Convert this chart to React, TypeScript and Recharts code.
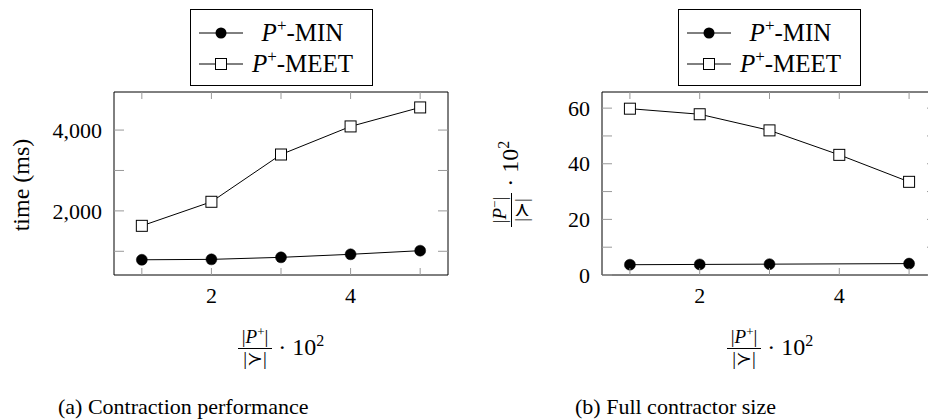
import { LineChart, Line, XAxis, YAxis } from 'recharts';

const FONT = '"Liberation Serif", "DejaVu Serif", serif';

const xValues = [1, 2, 3, 4, 5];
const xTicks = [1, 2, 3, 4, 5];
const xLabeled = [2, 4];

// (a) contraction time in ms
const timeMin = [790, 800, 850, 925, 1015];
const timeMeet = [1630, 2225, 3395, 4090, 4560];
const timeTicks = [1000, 2000, 3000, 4000];
const timeLabeled = [2000, 4000];

// (b) full contractor size, |P-|/|>| * 10^2 (no MIN mark at 4)
const sizeMin = [3.7, 3.8, 3.9, null, 4.1];
const sizeMeet = [59.8, 57.8, 52.0, 43.2, 33.5];
const sizeTicks = [0, 10, 20, 30, 40, 50, 60];
const sizeLabeled = [0, 20, 40, 60];

const seriesNames = ['MIN', 'MEET'];

const timeData = xValues.map((x, i) => ({ x, min: timeMin[i], meet: timeMeet[i] }));
const sizeData = xValues.map((x, i) => ({ x, min: sizeMin[i], meet: sizeMeet[i] }));

const TICK_COLOR = '#999';
const tickText = { fontFamily: FONT, fontSize: 22, fill: '#000' };

const fmt = (v: number) => v.toLocaleString('en-US');

function makeTick(side: 'bottom' | 'top' | 'left' | 'right', labeled: number[], len: number) {
  return (props: any) => {
    const { x, y, payload } = props;
    const v = payload.value;
    const show = labeled.includes(v);
    let line;
    if (side === 'bottom') line = <line x1={x} x2={x} y1={y} y2={y - len} stroke={TICK_COLOR} />;
    else if (side === 'top') line = <line x1={x} x2={x} y1={y} y2={y + len} stroke={TICK_COLOR} />;
    else if (side === 'left') line = <line x1={x} x2={x + len} y1={y} y2={y} stroke={TICK_COLOR} />;
    else line = <line x1={x} x2={x - len} y1={y} y2={y} stroke={TICK_COLOR} />;
    return (
      <g>
        {line}
        {show && side === 'bottom' && (
          <text x={x} y={y + 11} dy="0.75em" textAnchor="middle" {...tickText}>
            {fmt(v)}
          </text>
        )}
        {show && side === 'left' && (
          <text x={x - 12} y={y} dy="0.35em" textAnchor="end" {...tickText}>
            {fmt(v)}
          </text>
        )}
      </g>
    );
  };
}

const Square = (props: any) => {
  const { cx, cy, index } = props;
  if (cx == null || cy == null) return <g key={index} />;
  return <rect key={index} x={cx - 5.5} y={cy - 5.5} width={11} height={11} fill="#fff" stroke="#000" strokeWidth={1} />;
};

const circleDot = { r: 5.5, fill: '#000', stroke: '#000', strokeWidth: 0.5 };

// axes are 1px thick so that Recharts still draws them; margins make up for it
function Axes({ ticksY, labeledY, domainY }: { ticksY: number[]; labeledY: number[]; domainY: [number, number] }) {
  return [
    <XAxis
      key="xb"
      dataKey="x"
      type="number"
      domain={[0.6, 5.4]}
      ticks={xTicks}
      interval={0}
      height={1}
      tickSize={0}
      tickMargin={0}
      tickLine={false}
      axisLine={{ stroke: '#000' }}
      tick={makeTick('bottom', xLabeled, 7)}
      allowDataOverflow
    />,
    <XAxis
      key="xt"
      xAxisId="top"
      orientation="top"
      dataKey="x"
      type="number"
      domain={[0.6, 5.4]}
      ticks={xTicks}
      interval={0}
      height={1}
      tickSize={0}
      tickMargin={0}
      tickLine={false}
      axisLine={{ stroke: '#000' }}
      tick={makeTick('top', [], 7)}
      allowDataOverflow
    />,
    <YAxis
      key="yl"
      type="number"
      domain={domainY}
      ticks={ticksY}
      interval={0}
      width={1}
      tickSize={0}
      tickMargin={0}
      tickLine={false}
      axisLine={{ stroke: '#000' }}
      tick={makeTick('left', labeledY, 10)}
      allowDataOverflow
    />,
    <YAxis
      key="yr"
      yAxisId="right"
      orientation="right"
      type="number"
      domain={domainY}
      ticks={ticksY}
      interval={0}
      width={1}
      tickSize={0}
      tickMargin={0}
      tickLine={false}
      axisLine={{ stroke: '#000' }}
      tick={makeTick('right', [], 10)}
      allowDataOverflow
    />,
  ];
}

function LegendBox({ left }: { left: number }) {
  return (
    <div
      style={{
        position: 'absolute',
        left,
        top: 9,
        width: 181,
        height: 75,
        border: '1px solid #000',
        background: '#fff',
        fontFamily: FONT,
        fontSize: 25,
      }}
    >
      {seriesNames.map((name, i) => (
        <div key={name} style={{ position: 'absolute', top: i === 0 ? 8 : 39, left: 0, height: 30, width: 181, display: 'flex', alignItems: 'center' }}>
          <svg width={54} height={30} style={{ flex: 'none' }}>
            <line x1={8} x2={52} y1={15} y2={15} stroke="#000" strokeWidth={1} />
            {i === 0 ? (
              <circle cx={30} cy={15} r={5.5} fill="#000" />
            ) : (
              <rect x={24.5} y={9.5} width={11} height={11} fill="#fff" stroke="#000" />
            )}
          </svg>
          <span style={{ width: 115, textAlign: 'center', whiteSpace: 'nowrap' }}>
            <i>P</i>
            <span style={{ fontSize: 17, position: 'relative', top: -10 }}>+</span>-{name}
          </span>
        </div>
      ))}
    </div>
  );
}

function Ratio({ sign }: { sign: string }) {
  return (
    <span style={{ display: 'inline-flex', alignItems: 'center', whiteSpace: 'nowrap', fontFamily: FONT, color: '#000' }}>
      <span style={{ display: 'inline-flex', flexDirection: 'column', alignItems: 'center', fontSize: 19, lineHeight: '17px' }}>
        <span style={{ padding: '0 4px' }}>
          |<i>P</i>
          <span style={{ fontSize: 13, position: 'relative', top: -7 }}>{sign}</span>|
        </span>
        <span style={{ borderTop: '1px solid #000', alignSelf: 'stretch', marginTop: 1 }} />
        <span style={{ paddingTop: 1 }}>|≻|</span>
      </span>
      <span style={{ marginLeft: 6, fontSize: 24 }}>
        · 10<span style={{ fontSize: 16, position: 'relative', top: -9 }}>2</span>
      </span>
    </span>
  );
}

// centred box without a fractional transform
const centred = (cx: number, cy: number, w: number, h: number): React.CSSProperties => ({
  position: 'absolute',
  left: cx - w / 2,
  top: cy - h / 2,
  width: w,
  height: h,
  display: 'flex',
  alignItems: 'center',
  justifyContent: 'center',
  whiteSpace: 'nowrap',
  fontFamily: FONT,
  fontSize: 24,
  lineHeight: 1,
});

const caption = (left: number): React.CSSProperties => ({
  position: 'absolute',
  left,
  top: 396,
  whiteSpace: 'nowrap',
  fontFamily: FONT,
  fontSize: 22,
  lineHeight: 1,
});

export default function App() {
  return (
    <div style={{ position: 'absolute', left: 0, top: 0, width: 928, height: 420, overflow: 'hidden', background: '#fff' }}>
      <div style={{ position: 'absolute', left: 0, top: 0 }}>
        <LineChart width={464} height={420} data={timeData} margin={{ top: 91, right: 15, bottom: 144, left: 113 }}>
          {Axes({ ticksY: timeTicks, labeledY: timeLabeled, domainY: [413, 4942] })}
          <Line dataKey="meet" stroke="#000" strokeWidth={1} dot={Square} isAnimationActive={false} />
          <Line dataKey="min" stroke="#000" strokeWidth={1} dot={circleDot} isAnimationActive={false} />
        </LineChart>
      </div>
      <div style={{ position: 'absolute', left: 464, top: 0 }}>
        <LineChart width={480} height={420} data={sizeData} margin={{ top: 91, right: 6, bottom: 144, left: 137 }}>
          {Axes({ ticksY: sizeTicks, labeledY: sizeLabeled, domainY: [0, 65.8] })}
          <Line dataKey="meet" stroke="#000" strokeWidth={1} dot={Square} isAnimationActive={false} />
          <Line dataKey="min" stroke="#000" strokeWidth={1} connectNulls dot={circleDot} isAnimationActive={false} />
        </LineChart>
      </div>

      <LegendBox left={190} />
      <LegendBox left={678} />

      <div style={{ ...centred(21, 185, 140, 30), transform: 'rotate(-90deg)' }}>time (ms)</div>
      <div style={{ ...centred(510, 184, 140, 40), transform: 'rotate(-90deg)' }}>
        <Ratio sign="−" />
      </div>
      <div style={centred(281, 347, 160, 40)}>
        <Ratio sign="+" />
      </div>
      <div style={centred(770, 347, 160, 40)}>
        <Ratio sign="+" />
      </div>

      <div style={caption(58)}>(a) Contraction performance</div>
      <div style={caption(575)}>(b) Full contractor size</div>
    </div>
  );
}
